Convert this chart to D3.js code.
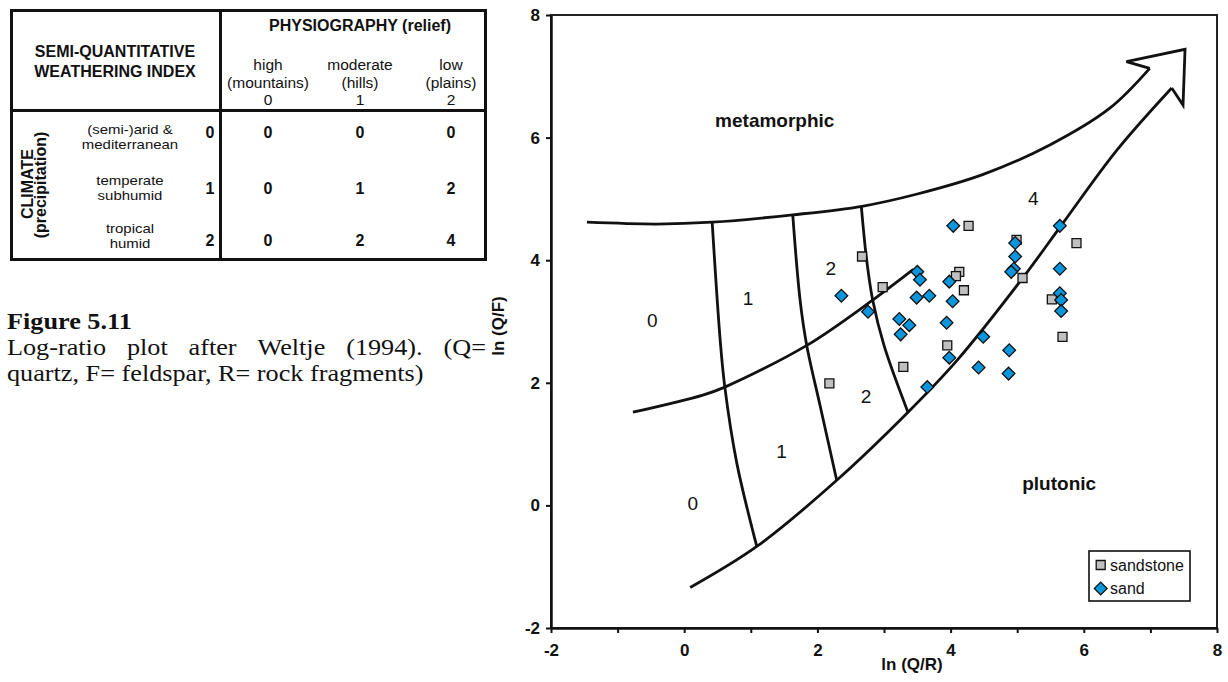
<!DOCTYPE html>
<html>
<head>
<meta charset="utf-8">
<script src="https://cdn.jsdelivr.net/npm/d3@7"></script>
<style>
  body { margin: 0; background: #fff; }
  svg { display: block; }
</style>
</head>
<body>
<svg id="fig" width="1228" height="682"></svg>
<script>
// ---- Semi-quantitative weathering index table ----
const reliefLabels = [
  ["high", "(mountains)", "0"],
  ["moderate", "(hills)", "1"],
  ["low", "(plains)", "2"]
];
const climateLabels = [
  ["(semi-)arid &", "mediterranean"],
  ["temperate", "subhumid"],
  ["tropical", "humid"]
];
const climateCodes = ["0", "1", "2"];
const weatheringIndex = [
  [0, 0, 0],
  [0, 1, 2],
  [0, 2, 4]
];

// ---- Log-ratio diagram: field boundaries as [ln(Q/R), ln(Q/F)] ----
const upperBoundary = [
  [-1.46, 4.62], [-0.41, 4.59], [0.42, 4.62], [1.63, 4.74], [2.67, 4.88],
  [3.50, 5.08], [4.49, 5.40], [5.49, 5.88], [6.39, 6.48], [6.99, 7.13]
];
const lowerBoundary = [
  [0.09, -1.34], [1.09, -0.67], [2.29, 0.41], [3.36, 1.52], [4.10, 2.37],
  [5.09, 3.72], [5.69, 4.61], [6.50, 5.80], [7.32, 6.81]
];
const arrowHead = [
  [6.99, 7.13], [6.64, 7.24], [7.52, 7.44], [7.49, 6.53], [7.32, 6.81]
];
const climateBoundary = [
  [-0.77, 1.52], [0.28, 1.80], [0.61, 1.93], [1.84, 2.61], [2.83, 3.35], [3.44, 3.85]
];
const reliefDivide01 = [[0.42, 4.62], [0.54, 2.70], [0.61, 1.93], [0.79, 0.69], [1.09, -0.67]];
const reliefDivide12 = [[1.63, 4.74], [1.74, 3.35], [1.84, 2.61], [2.04, 1.63], [2.29, 0.41]];
const reliefDivide24 = [[2.66, 4.87], [2.74, 4.00], [2.83, 3.35], [3.00, 2.61], [3.36, 1.52]];

// ---- Samples ----
const sandstone = [
  [2.67, 4.06], [2.98, 3.56], [3.29, 2.26], [2.18, 1.99], [4.27, 4.56],
  [4.99, 4.33], [5.08, 3.71], [5.89, 4.28], [5.52, 3.36], [5.68, 2.75],
  [4.13, 3.81], [4.08, 3.74], [4.20, 3.51], [3.95, 2.61]
];
const sand = [
  [2.36, 3.42], [2.76, 3.16], [3.50, 3.81], [3.54, 3.68], [3.49, 3.39],
  [3.68, 3.42], [3.23, 3.04], [3.38, 2.94], [3.25, 2.79], [4.04, 4.56],
  [3.98, 3.65], [4.03, 3.33], [3.94, 2.98], [3.98, 2.41], [4.97, 4.28],
  [4.97, 4.06], [4.95, 3.86], [4.91, 3.81], [5.64, 4.56], [5.64, 3.86],
  [5.64, 3.46], [5.66, 3.35], [5.66, 3.17], [4.49, 2.75], [4.88, 2.53],
  [4.42, 2.25], [4.87, 2.15], [3.65, 1.93]
];

// Weathering index numbers written in the fields
const fieldLabels = [
  { t: "0", x: -0.48, y: 2.91 }, { t: "1", x: 0.96, y: 3.27 }, { t: "2", x: 2.20, y: 3.76 },
  { t: "0", x: 0.13, y: -0.08 }, { t: "1", x: 1.46, y: 0.77 }, { t: "2", x: 2.73, y: 1.67 },
  { t: "4", x: 5.24, y: 4.90 }
];
const sourceLabels = [
  { t: "metamorphic", x: 1.36, y: 6.17 },
  { t: "plutonic", x: 5.63, y: 0.25 }
];

const xTicks = d3.range(-2, 9);          // a tick on every unit
const yTicks = [-2, 0, 2, 4, 6, 8];
const legendItems = ["sandstone", "sand"];

const captionTitle = "Figure 5.11";
const captionLine2 = ["Log-ratio", "plot", "after", "Weltje", "(1994).", "(Q="];
const captionLine3 = "quartz, F= feldspar, R= rock fragments)";

// ---- Drawing ----
const SANS = "'Liberation Sans', Arial, Helvetica, sans-serif";
const SERIF = "'Liberation Serif', 'Times New Roman', serif";
const INK = "#111";
const svg = d3.select("#fig");

function text(parent, x, y, s, o = {}) {
  return parent.append("text")
    .attr("x", x).attr("y", y)
    .attr("text-anchor", o.anchor || "middle")
    .attr("fill", o.fill || INK)
    .style("font-family", o.family || SANS)
    .style("font-size", (o.size || 16) + "px")
    .style("font-weight", o.weight || "normal")
    .text(s);
}

// One text element holding several stacked lines
function multiline(parent, x, y, lines, lead, o = {}) {
  const t = text(parent, x, y, null, o);
  lines.forEach((s, i) => t.append("tspan").attr("x", x).attr("y", y + i * lead).text(s));
  return t;
}

// Table
const table = svg.append("g");
const tb = { left: 11.5, top: 10.5, right: 485.5, bottom: 259.5, headBottom: 110.5, split: 220.5 };
table.append("rect")
  .attr("x", tb.left).attr("y", tb.top)
  .attr("width", tb.right - tb.left).attr("height", tb.bottom - tb.top)
  .attr("fill", "none").attr("stroke", INK).attr("stroke-width", 3);
table.append("line").attr("x1", tb.left).attr("x2", tb.right)
  .attr("y1", tb.headBottom).attr("y2", tb.headBottom)
  .attr("stroke", INK).attr("stroke-width", 3);
table.append("line").attr("x1", tb.split).attr("x2", tb.split)
  .attr("y1", tb.top).attr("y2", tb.bottom)
  .attr("stroke", INK).attr("stroke-width", 3);

multiline(table, 115, 57, ["SEMI-QUANTITATIVE", "WEATHERING INDEX"], 20, { weight: "bold", size: 16 });
text(table, 360, 31, "PHYSIOGRAPHY (relief)", { weight: "bold", size: 16 });

const colX = [268, 360, 451];
reliefLabels.forEach((lines, i) => multiline(table, colX[i], 70, lines, 17.5, { size: 15.5 }));

const rowBase = [138, 194, 246];
weatheringIndex.forEach((row, r) => {
  row.forEach((v, c) => text(table, colX[c], rowBase[r], String(v), { weight: "bold", size: 16 }));
  text(table, 210, rowBase[r], climateCodes[r], { weight: "bold", size: 16 });
});
// climate row labels: tight leading, slightly widened glyphs
const climateTop = [134, 185, 233];
climateLabels.forEach((lines, r) => {
  const g = table.append("g").attr("transform", `translate(130,${climateTop[r]}) scale(1.15,1)`);
  multiline(g, 0, 0, lines, 14.6, { size: 13 });
});
text(table, 0, 0, "CLIMATE", { weight: "bold", size: 16 })
  .attr("transform", "translate(33,184) rotate(-90)");
text(table, 0, 0, "(precipitation)", { weight: "bold", size: 16 })
  .attr("transform", "translate(46,185) rotate(-90)");

// Caption (justified paragraph)
const cap = svg.append("g");
const capScale = 1.14, capLeft = 7, capRight = 486;
cap.append("g").attr("transform", `translate(${capLeft},329) scale(${capScale},1)`)
  .call(g => text(g, 0, 0, captionTitle, { family: SERIF, size: 23, weight: "bold", anchor: "start" }));
const l2 = cap.append("g").attr("transform", `translate(${capLeft},355) scale(${capScale},1)`);
const words = captionLine2.map(w => text(l2, 0, 0, w, { family: SERIF, size: 23, anchor: "start" }));
const widths = words.map(w => w.node().getComputedTextLength());
const avail = (capRight - capLeft) / capScale;
const gap = (avail - d3.sum(widths)) / (words.length - 1);
let cx = 0;
words.forEach((w, i) => { w.attr("x", cx); cx += widths[i] + gap; });
cap.append("g").attr("transform", `translate(${capLeft},381) scale(${capScale},1)`)
  .call(g => text(g, 0, 0, captionLine3, { family: SERIF, size: 23, anchor: "start" }));

// Plot
const pl = { left: 551, right: 1217, top: 15, bottom: 628 };
const x = d3.scaleLinear().domain([-2, 8]).range([pl.left, pl.right]);
const y = d3.scaleLinear().domain([-2, 8]).range([pl.bottom, pl.top]);
const plot = svg.append("g");

plot.append("rect")
  .attr("x", pl.left).attr("y", pl.top)
  .attr("width", pl.right - pl.left).attr("height", pl.bottom - pl.top)
  .attr("fill", "#fff").attr("stroke", "#222").attr("stroke-width", 2);

const smooth = d3.line().x(d => x(d[0])).y(d => y(d[1])).curve(d3.curveCatmullRom.alpha(0.5));
const straight = d3.line().x(d => x(d[0])).y(d => y(d[1]));
const curveStyle = p => p.attr("fill", "none").attr("stroke", INK)
  .attr("stroke-width", 2.8).attr("stroke-linejoin", "miter").attr("stroke-linecap", "butt");

[upperBoundary, lowerBoundary, climateBoundary, reliefDivide01, reliefDivide12, reliefDivide24]
  .forEach(c => plot.append("path").attr("d", smooth(c)).call(curveStyle));
plot.append("path").attr("d", straight(arrowHead)).call(curveStyle);

// Axes
const xAxis = d3.axisBottom(x).tickValues(xTicks)
  .tickFormat(d => (d % 2 === 0 ? String(d) : ""))
  .tickSize(5).tickSizeOuter(0).tickPadding(11);
const yAxis = d3.axisLeft(y).tickValues(yTicks)
  .tickFormat(d => String(d))
  .tickSize(5).tickSizeOuter(0).tickPadding(6);
const styleAxis = g => {
  g.select(".domain").attr("stroke", INK).attr("stroke-width", 2.5);
  g.selectAll(".tick line").attr("stroke", INK).attr("stroke-width", 2);
  g.selectAll(".tick text").attr("fill", INK)
    .style("font-family", SANS).style("font-size", "17px").style("font-weight", "bold");
};
plot.append("g").attr("transform", `translate(0,${pl.bottom})`).call(xAxis).call(styleAxis);
plot.append("g").attr("transform", `translate(${pl.left},0)`).call(yAxis).call(styleAxis);

text(plot, 912, 670, "ln (Q/R)", { weight: "bold", size: 17 });
text(plot, 0, 0, "ln (Q/F)", { weight: "bold", size: 17 })
  .attr("transform", "translate(504,326) rotate(-90)");

// Field labels
fieldLabels.forEach(d => text(plot, x(d.x), y(d.y), d.t, { size: 19 }));
sourceLabels.forEach(d => text(plot, x(d.x), y(d.y), d.t, { size: 19, weight: "bold" }));

// Samples
const square = d3.symbol(d3.symbolSquare, 81);
plot.append("g").selectAll("path").data(sandstone).join("path")
  .attr("d", square)
  .attr("transform", d => `translate(${x(d[0])},${y(d[1])})`)
  .attr("fill", "#c0c0c0").attr("stroke", INK).attr("stroke-width", 1.3);
plot.append("g").selectAll("path").data(sand).join("path")
  .attr("d", square)
  .attr("transform", d => `translate(${x(d[0])},${y(d[1])}) rotate(45)`)
  .attr("fill", "#0a96dc").attr("stroke", INK).attr("stroke-width", 1.3);

// Legend
const lg = plot.append("g");
lg.append("rect").attr("x", 1089).attr("y", 551).attr("width", 101).attr("height", 50)
  .attr("fill", "#fff").attr("stroke", INK).attr("stroke-width", 1.6);
legendItems.forEach((name, i) => {
  const cy = 565 + i * 23.5;
  lg.append("path")
    .attr("d", square)
    .attr("transform", `translate(1100.7,${cy})${i === 1 ? " rotate(45)" : ""}`)
    .attr("fill", i === 0 ? "#c0c0c0" : "#0a96dc")
    .attr("stroke", INK).attr("stroke-width", 1.3);
  text(lg, 1110, cy + 5.7, name, { size: 16, anchor: "start" });
});
</script>
</body>
</html>
